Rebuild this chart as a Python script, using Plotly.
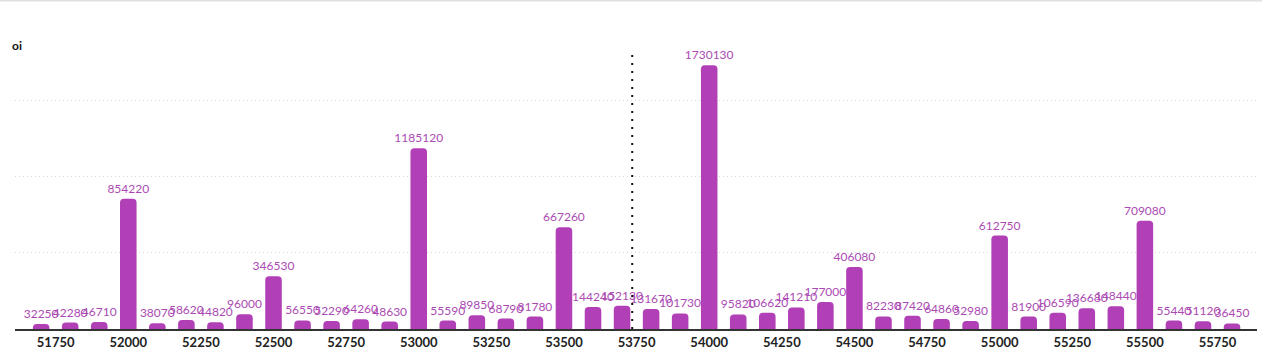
import plotly.graph_objects as go

strikes = list(range(51700, 55900, 100))
oi = [32250, 42280, 46710, 854220, 38070, 58620, 44820, 96000, 346530, 56550,
      52290, 64260, 48630, 1185120, 55590, 89850, 68790, 81780, 667260, 144240,
      152130, 131670, 101730, 1730130, 95820, 106620, 141210, 177000, 406080, 82230,
      87420, 64860, 52980, 612750, 81900, 106590, 136680, 148440, 709080, 55440,
      51120, 36450]
spot = 53735
tick_vals = list(range(51750, 55800, 250))

bar_color = "#b13fb6"

fig = go.Figure(go.Bar(
    x=strikes, y=oi, width=57,
    marker=dict(color=bar_color, line=dict(width=0)),
    text=[str(v) for v in oi], textposition="outside", cliponaxis=False,
    textfont=dict(color="#ab4ab3", size=12, family="Lato"),
    hoverinfo="x+y",
))

fig.update_layout(
    width=1262, height=352,
    margin=dict(l=15, r=5, t=24, b=23),
    paper_bgcolor="white", plot_bgcolor="white",
    barcornerradius=4,
    showlegend=False,
    uniformtext=dict(mode="show", minsize=12),
    xaxis=dict(range=[51610, 55886], tickvals=tick_vals,
               ticktext=[f"<b>{v}</b>" for v in tick_vals],
               tickfont=dict(size=13, color="#222", family="Lato"),
               showgrid=False, showline=True, linecolor="#333", linewidth=2,
               ticks="", zeroline=False, automargin=False),
    yaxis=dict(range=[0, 2000000], tickvals=[500000, 1000000, 1500000],
               showticklabels=False, showgrid=True, gridcolor="#d6d6d6",
               griddash="1px,3px", gridwidth=1, zeroline=False, showline=False,
               automargin=False),
    shapes=[
        dict(type="line", xref="x", yref="y", x0=spot, x1=spot, y0=0, y1=1820000,
             line=dict(color="#111", width=2, dash="2px,6px")),
        dict(type="line", xref="paper", yref="paper", x0=-0.02, x1=1.01,
             y0=1.077, y1=1.077, line=dict(color="#e0e0e0", width=2)),
    ],
    annotations=[
        dict(text="<b>oi</b>", xref="paper", yref="paper", x=-0.004, y=0.93,
             xanchor="left", yanchor="middle", showarrow=False,
             font=dict(size=12, color="#111", family="Lato")),
    ],
)

fig.write_html("out.html")
